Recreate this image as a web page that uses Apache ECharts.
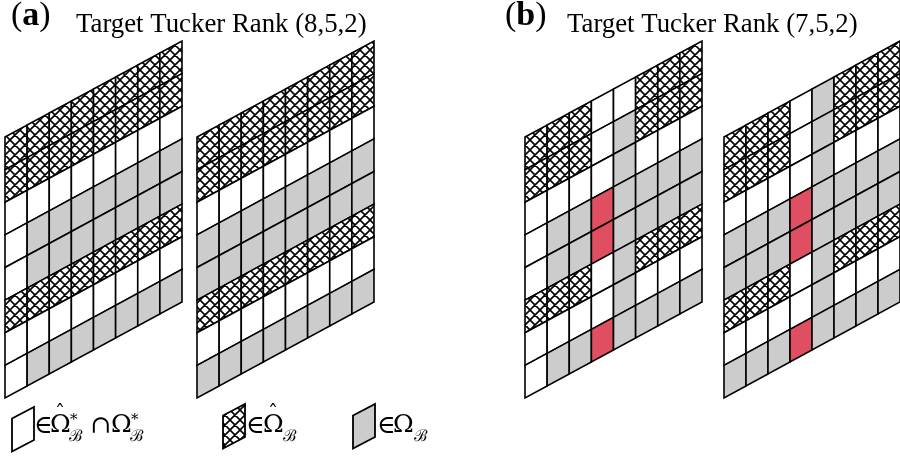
<!DOCTYPE html>
<html><head><meta charset="utf-8">
<script src="https://cdn.jsdelivr.net/npm/echarts@6/dist/echarts.min.js"></script>
<style>html,body{margin:0;padding:0;background:#fff}#c{width:900px;height:457px}</style>
</head><body><div id="c"></div>
<script>
// ---- data ----
const panelLabels = ['a', 'b'];
const panelTitles = ['Target Tucker Rank (8,5,2)', 'Target Tucker Rank (7,5,2)'];
// cell kinds per row (top to bottom), one char per column: W = in Ω̂*∩Ω*, H = in Ω̂, G = in Ω, R = highlighted
const gridA1 = ['HHHHHHHH','HHHHHHHH','WWWWWWWW','WGGGGGGG','WGGGGGGG','HHHHHHHH','WWWWWWWW','WGGGGGGG'];
const gridA2 = ['HHHHHHHH','HHHHHHHH','WWWWWWWW','GGGGGGGG','GGGGGGGG','HHHHHHHH','WWWWWWWW','GGGGGGGG'];
const gridB1 = ['HHHWWHHH','HHHWGHHH','WWWWGWWW','WGGRGGGG','WGGRGGGG','HHHWGHHH','WWWWGWWW','WGGRGGGG'];
const gridB2 = ['HHHWGHHH','HHHWGHHH','WWWWGWWW','GGGRGGGG','GGGRGGGG','HHHWGHHH','WWWWGWWW','GGGRGGGG'];
const kinds = ['W', 'H', 'G', 'R'];

// ---- layout / style ----
const SERIF = "'Liberation Serif','DejaVu Serif',serif";
const MATH = "'DejaVu Serif','Liberation Serif',serif";
const blocksLeft = [5, 197, 525, 724];
const blockTop = 41, blockW = 177, blockH = 357;
const NCOL = 8, NROW = 8;
const SKEW = 96 / 32.6 / NCOL;   // rows of rise per column
const fills = { W: '#ffffff', G: '#cccccc', R: '#df4f61' };

function makeHatch() {
  const t = 10;
  const cv = document.createElement('canvas');
  cv.width = t; cv.height = t;
  const g = cv.getContext('2d');
  g.fillStyle = '#fff'; g.fillRect(0, 0, t, t);
  g.strokeStyle = '#000'; g.lineWidth = 1.6;
  g.beginPath();
  for (const o of [-t, 0, t]) {
    g.moveTo(o - 1, -1); g.lineTo(o + t + 1, t + 1);
    g.moveTo(o - 1, t + 1); g.lineTo(o + t + 1, -1);
  }
  g.stroke();
  return cv;
}
const hatch = { image: makeHatch(), repeat: 'repeat' };
function fillOf(k) { return k === 'H' ? hatch : fills[k]; }

function toData(rows) {
  const out = [];
  rows.forEach((row, r) => row.split('').forEach((ch, c) => out.push([c, r, kinds.indexOf(ch)])));
  return out;
}
const blocks = [gridA1, gridA2, gridB1, gridB2];

function renderCell(params, api) {
  const c = api.value(0), r = api.value(1), k = kinds[api.value(2)];
  const pt = (x, y) => api.coord([x, y - SKEW * x]);
  return {
    type: 'polygon',
    shape: { points: [pt(c, r), pt(c + 1, r), pt(c + 1, r + 1), pt(c, r + 1)] },
    style: { fill: fillOf(k), stroke: '#000', lineWidth: 1.6, lineJoin: 'miter' }
  };
}

// legend swatch geometry (one cell)
function swatch(x, yTop, k) {
  const w = 22, h = 33, rise = 11.5;
  return {
    type: 'polygon',
    shape: { points: [[x, yTop], [x + w, yTop - rise], [x + w, yTop - rise + h], [x, yTop + h]] },
    style: { fill: fillOf(k), stroke: '#000', lineWidth: 1.8 }
  };
}
function txt(x, y, s, size, fam) {
  return { type: 'text', x: x, y: y,
    style: { text: s, font: size + 'px ' + (fam || MATH), fill: '#000', verticalAlign: 'bottom' } };
}

const chart = echarts.init(document.getElementById('c'), null, { renderer: 'canvas', devicePixelRatio: 1 });
const option = {
  animation: false,
  backgroundColor: '#fff',
  grid: blocksLeft.map(l => ({ left: l, top: blockTop, width: blockW, height: blockH })),
  xAxis: blocksLeft.map((l, i) => ({ type: 'value', gridIndex: i, min: 0, max: NCOL, show: false })),
  yAxis: blocksLeft.map((l, i) => ({ type: 'value', gridIndex: i, min: -SKEW * NCOL, max: NROW, inverse: true, show: false })),
  series: blocks.map((rows, i) => ({
    type: 'custom', xAxisIndex: i, yAxisIndex: i, clip: false,
    renderItem: renderCell, data: toData(rows)
  })),
  graphic: [
    { type: 'text', x: 11, y: -1, style: { text: '{p|(}{b|' + panelLabels[0] + '}{p|)}', fill: '#000',
      rich: { p: { fontSize: 34, fontFamily: SERIF }, b: { fontSize: 34, fontFamily: SERIF, fontWeight: 'bold' } } } },
    { type: 'text', x: 76, y: 11, style: { text: panelTitles[0], font: '26.8px ' + SERIF, fill: '#000' } },
    { type: 'text', x: 505, y: -1, style: { text: '{p|(}{b|' + panelLabels[1] + '}{p|)}', fill: '#000',
      rich: { p: { fontSize: 34, fontFamily: SERIF }, b: { fontSize: 34, fontFamily: SERIF, fontWeight: 'bold' } } } },
    { type: 'text', x: 567, y: 11, style: { text: panelTitles[1], font: '26.8px ' + SERIF, fill: '#000' } },
    // legend
    swatch(12, 418.5, 'W'),
    swatch(223, 415.5, 'H'),
    swatch(353, 415.5, 'G'),
    txt(34, 439, '\u2208', 25),
    txt(50, 438, '\u03A9', 25),
    txt(55, 425, '\u02C6', 20),
    txt(70, 428, '*', 15),
    txt(69, 445, '\u212C', 16),
    txt(90, 439, '\u2229', 25),
    txt(111, 438, '\u03A9', 25),
    txt(131, 428, '*', 15),
    txt(130, 445, '\u212C', 16),
    txt(246, 439, '\u2208', 25),
    txt(263, 438, '\u03A9', 25),
    txt(268, 425, '\u02C6', 20),
    txt(283, 445, '\u212C', 16),
    txt(377, 439, '\u2208', 25),
    txt(393, 438, '\u03A9', 25),
    txt(414, 445, '\u212C', 16)
  ]
};
chart.setOption(option);
</script></body></html>
